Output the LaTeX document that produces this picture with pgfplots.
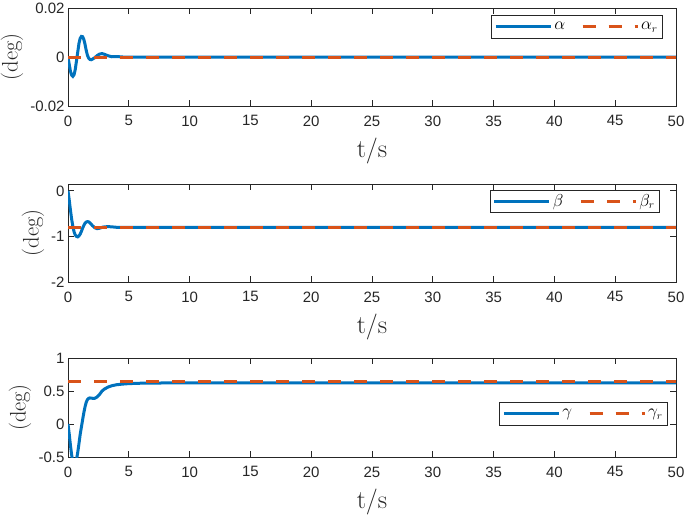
\documentclass[border=0pt]{standalone}
\usepackage{fontspec}
\usepackage{pgfplots}
\pgfplotsset{compat=1.18}
\newfontfamily\tickfont{Liberation Sans}
\definecolor{mblue}{rgb}{0,0.447,0.741}
\definecolor{morange}{rgb}{0.85,0.325,0.098}
\definecolor{axgray}{rgb}{0.15,0.15,0.15}

\pgfplotsset{
 myax/.style={
  scale only axis, width=608pt, xmin=0, xmax=50, xtick={0,5,...,50},
  tick align=inside, major tick length=6pt,
  axis line style={axgray, line width=0.7pt},
  tick style={axgray, line width=0.7pt},
  tick label style={font=\tickfont\fontsize{15}{17}\selectfont, text=axgray},
  /pgf/number format/assume math mode=true,
  xticklabel style={yshift=-6pt},
  xlabel={t/s},
  xlabel style={font=\fontsize{26}{28}\selectfont, text=axgray, at={(axis description cs:0.5,-0.459)}, anchor=center},
  ylabel={(deg)},
  ylabel style={font=\fontsize{22.5}{24}\selectfont, text=axgray, anchor=center},
  scaled y ticks=false,
  legend columns=2,
  legend cell align=left,
  legend style={draw=axgray, line width=0.6pt, font=\fontsize{16}{18}\selectfont,
    inner xsep=3pt, inner ysep=5pt,
    /tikz/every even column/.append style={column sep=14pt}},
  legend image code/.code={\draw[#1] (0pt,0pt) -- (55pt,0pt);},
 },
 bl/.style={mblue, line width=3pt, solid},
 rd/.style={morange, line width=3pt, dash pattern=on 13pt off 13pt},
}

\begin{document}
\begin{tikzpicture}
\path[use as bounding box] (0,0) rectangle (685pt,-514pt);

% ---- alpha ----
\begin{axis}[myax, at={(68pt,-106pt)}, anchor=south west, height=98pt,
  ymin=-0.02, ymax=0.02, ytick={-0.02,0,0.02}, yticklabels={-0.02,0,0.02},
  ylabel style={at={(axis description cs:-0.092,0.5)}},
  legend style={at={(0.9786,0.9286)}, anchor=north east}]
\addplot[bl] coordinates {
(0,0) (0.1,-0.003) (0.2,-0.0058) (0.3,-0.0074) (0.4,-0.0079) (0.5,-0.0072)
(0.6,-0.005) (0.7,-0.0015) (0.8,0.002) (0.9,0.0055) (1.0,0.0076) (1.1,0.0084)
(1.2,0.0083) (1.3,0.0072) (1.4,0.0052) (1.5,0.0027) (1.6,0.0007) (1.7,-0.0005)
(1.8,-0.001) (1.9,-0.0011) (2.0,-0.0009) (2.2,-0.0003) (2.4,0.0006) (2.6,0.0012)
(2.8,0.0014) (3.0,0.0011) (3.3,0.0005) (3.6,0.0001) (4.0,0.0002) (4.5,0) (50,0)};
\addlegendentry{$\alpha$}
\addplot[rd] coordinates {(0,0) (50,0)};
\addlegendentry{$\alpha_r$}
\end{axis}

% ---- beta ----
\begin{axis}[myax, at={(68pt,-282pt)}, anchor=south west, height=98pt,
  ymin=-2, ymax=0.15, ytick={-2,-1,0}, yticklabels={-2,-1,0},
  ylabel style={at={(axis description cs:-0.0576,0.5)}},
  legend style={at={(0.9737,0.9388)}, anchor=north east, inner ysep=2pt}]
\addplot[bl] coordinates {
(0,0) (0.1,-0.2) (0.2,-0.42) (0.3,-0.62) (0.4,-0.78) (0.5,-0.9) (0.6,-0.97)
(0.7,-1.0) (0.8,-1.01) (0.9,-0.99) (1.0,-0.95) (1.1,-0.89) (1.2,-0.82)
(1.3,-0.76) (1.4,-0.71) (1.5,-0.685) (1.6,-0.675) (1.7,-0.68) (1.8,-0.70)
(1.9,-0.73) (2.0,-0.76) (2.2,-0.81) (2.4,-0.83) (2.6,-0.82) (2.8,-0.80)
(3.0,-0.79) (3.3,-0.785) (3.6,-0.79) (4.0,-0.8) (5,-0.8) (50,-0.8)};
\addlegendentry{$\beta$}
\addplot[rd] coordinates {(0,-0.8) (50,-0.8)};
\addlegendentry{$\beta_r$}
\end{axis}

% ---- gamma ----
\begin{axis}[myax, at={(68pt,-457pt)}, anchor=south west, height=99pt,
  ymin=-0.5, ymax=1, ytick={-0.5,0,0.5,1}, yticklabels={-0.5,0,0.5,1},
  ylabel style={at={(axis description cs:-0.079,0.5)}},
  legend style={at={(0.9868,0.5556)}, anchor=north east}]
\addplot[bl] coordinates {
(0,0) (0.1,-0.15) (0.2,-0.32) (0.3,-0.47) (0.4,-0.57) (0.5,-0.61) (0.6,-0.6)
(0.7,-0.54) (0.8,-0.43) (0.9,-0.3) (1.0,-0.16) (1.1,-0.05) (1.2,0.06)
(1.3,0.17) (1.4,0.26) (1.5,0.33) (1.6,0.37) (1.7,0.39) (1.8,0.395)
(2.0,0.39) (2.2,0.39) (2.4,0.41) (2.6,0.45) (2.8,0.5) (3.0,0.53)
(3.3,0.56) (3.6,0.58) (4.0,0.595) (4.5,0.605) (5,0.612) (6,0.618)
(8,0.622) (10,0.624) (50,0.625)};
\addlegendentry{$\gamma$}
\addplot[rd] coordinates {(0,0.65) (50,0.65)};
\addlegendentry{$\gamma_r$}
\end{axis}
\end{tikzpicture}
\end{document}
